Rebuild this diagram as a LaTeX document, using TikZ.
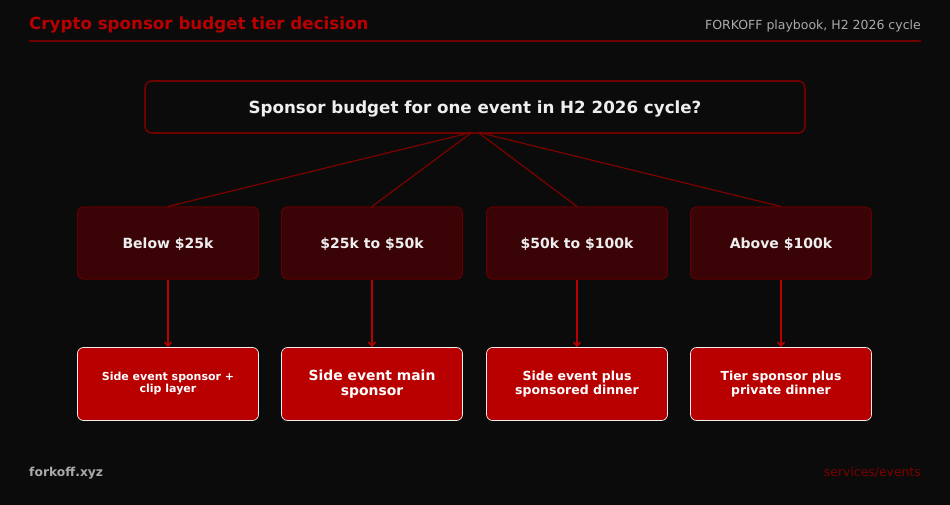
\documentclass[tikz,border=0pt]{standalone}
\usepackage{fontspec}
\setmainfont{DejaVu Sans}
\usetikzlibrary{calc,arrows.meta}
\definecolor{bg}{HTML}{0B0B0B}
\definecolor{brand}{HTML}{B80000}
\definecolor{deep}{HTML}{6E0000}
\definecolor{tierfill}{HTML}{3A0306}
\definecolor{soft}{HTML}{AAAAAA}
\definecolor{ink}{HTML}{EEEEEE}

\begin{document}
\begin{tikzpicture}[x=1pt,y=-1pt,
    question/.style={draw=deep, line width=1.6pt, rounded corners=7pt, fill=bg,
        minimum width=660pt, minimum height=52pt, inner sep=0pt, text depth=0pt,
        text=ink, font=\bfseries\fontsize{16.7}{20}\selectfont},
    tier/.style={draw=deep!80!red!70!black, line width=1pt, rounded corners=6pt, fill=tierfill,
        minimum width=181pt, minimum height=72pt, inner sep=0pt, text depth=0pt,
        text=ink, font=\bfseries\fontsize{14}{16}\selectfont},
    result/.style={draw=ink, line width=0.7pt, rounded corners=6pt, fill=brand,
        minimum width=181pt, minimum height=73pt, inner sep=0pt, align=center,
        text=white},
    link/.style={draw=deep!90!red, line width=1.2pt},
    flow/.style={draw=brand, line width=1.5pt, -{Straight Barb[length=4pt,width=7pt]}}]

    % canvas and header
    \fill[bg] (0,0) rectangle (950,505);
    \node[anchor=base west, inner sep=0pt, text=brand,
        font=\bfseries\fontsize{16.7}{20}\selectfont] (title) at (29,29.5) {Crypto sponsor budget tier decision};
    \node[anchor=base east, inner sep=0pt, text=soft,
        font=\fontsize{12.5}{15}\selectfont] (cycle) at (921,29.5) {FORKOFF playbook, H2 2026 cycle};
    \draw[deep, line width=1.3pt] (29,41) coordinate (hl) -- (921,41) coordinate (hr);

    % question
    \node[question] (top) at (475,107) {Sponsor budget for one event in H2 2026 cycle?};

    % budget tiers
    \foreach \x/\n/\t in {168/a/Below \$25k, 372/b/\$25k to \$50k,
                          577/c/\$50k to \$100k, 781/d/Above \$100k} {
    \node[tier] (t\n) at (\x,243) {\t};}

    % outcomes
    \foreach \x/\n/\s/\l/\t in {168/a/11/12/{Side event sponsor +\\clip layer},
                             372/b/13.9/15.5/{Side event main\\sponsor},
                             577/c/12.5/14/{Side event plus\\sponsored dinner},
                             781/d/12.4/14/{Tier sponsor plus\\private dinner}} {
    \node[result, font=\bfseries\fontsize{\s}{\l}\selectfont] (r\n) at (\x,384) {\t};}

    % connectors
    \foreach \n/\d in {a/-3,b/-3,c/3,d/3} {
    \draw[link] ($(top.south)+(\d,-1.5)$) -- (t\n.north);
    \draw[flow] (t\n.south) -- (r\n.north);}

    % footer
    \node[anchor=base west, inner sep=0pt, text=soft,
        font=\bfseries\fontsize{12.3}{14}\selectfont] (site) at (29,476) {forkoff.xyz};
    \node[anchor=base east, inner sep=0pt, text=deep!90!red,
        font=\fontsize{12.4}{14}\selectfont] (page) at (921,476) {services/events};

\end{tikzpicture}
\end{document}
